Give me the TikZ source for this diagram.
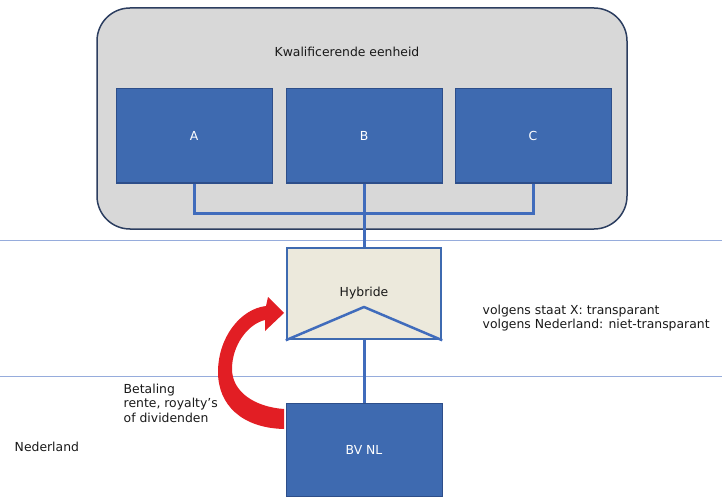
\documentclass[tikz,border=0pt]{standalone}
\usepackage{fontspec}
\setmainfont{DejaVu Sans}
\usetikzlibrary{positioning}
\definecolor{vakblauw}{RGB}{62,106,176}
\definecolor{randblauw}{RGB}{45,78,138}
\definecolor{lijnblauw}{RGB}{64,108,188}
\definecolor{grensblauw}{RGB}{150,172,220}
\definecolor{kadergrijs}{RGB}{216,216,216}
\definecolor{kaderrand}{RGB}{44,62,96}
\definecolor{hybridekleur}{RGB}{236,233,220}
\definecolor{betaalrood}{RGB}{226,30,36}
\tikzset{>=stealth}
\tikzset{
  kader/.style={draw=kaderrand, fill=kadergrijs, line width=1.5pt, rounded corners=33pt,
    minimum width=530pt, minimum height=221pt},
  eenheid/.style={draw=randblauw, fill=vakblauw, text=white, line width=1pt,
    minimum width=156pt, minimum height=94pt},
  hybridevak/.style={draw=vakblauw, fill=hybridekleur, line width=2.5pt,
    minimum width=154pt, minimum height=91pt},
  verbinding/.style={draw=lijnblauw, line width=3pt},
  grens/.style={draw=grensblauw, line width=1pt},
  tekst/.style={font=\fontsize{12.4}{14.5}\selectfont, text=black!90}
}

\begin{document}
\begin{tikzpicture}[x=1pt, y=-1pt, thick]
  \useasboundingbox (0,0) rectangle (722,497);

      % landsgrenzen
      \draw[grens] (0,240) -- (722,240);
      \draw[grens] (0,376) -- (722,376);

      \node[kader]	(KE)	at	(362,118.5)	{};
      \node[tekst]	(titel)	at	(347,52)	{Kwalificerende eenheid};
      \node[eenheid, tekst, text=white]	(A)	at	(194,136)	{A};
      \node[eenheid, tekst, text=white]	(B)	at	(364,136)	{B};
      \node[eenheid, tekst, text=white]	(C)	at	(533,136)	{C};
      \coordinate	(bus)	at	(364,213);

      \node[hybridevak, tekst]	(H)	at	(364,293.5)	{Hybride};
      \node[eenheid, tekst, text=white, minimum height=93pt]	(BV)	at	(364,449.5)	{BV NL};

      \draw[verbinding] (A.south) |- (bus) -| (C.south);
      \draw[verbinding] (B.south) -- (H.north);
      \draw[verbinding] (H.south) -- (BV.north);
      \draw[verbinding, line width=2.5pt, line join=round]
        (H.south west) -- ([yshift=-13.5pt]H.center) -- (H.south east);

      % betalingspijl
      \fill[betaalrood] (284,429) .. controls (242,428) and (218,405) .. (218,372)
        .. controls (218,338) and (240,309) .. (266,306)
        -- (268,297) -- (284,313) -- (265,331) -- (265,320)
        .. controls (248,324) and (232,345) .. (232,369)
        .. controls (232,392) and (255,407) .. (284,409) -- cycle;

      \node[tekst, anchor=west, align=left]	(staat)	at	(479,318)	{volgens staat X: transparant\\volgens Nederland: niet-transparant};
      \node[tekst, anchor=west, align=left]	(betaling)	at	(120,403)	{Betaling\\rente, royalty’s\\of dividenden};
      \node[tekst, anchor=west]	(NL)	at	(11,447)	{Nederland};
\end{tikzpicture}
\end{document}
